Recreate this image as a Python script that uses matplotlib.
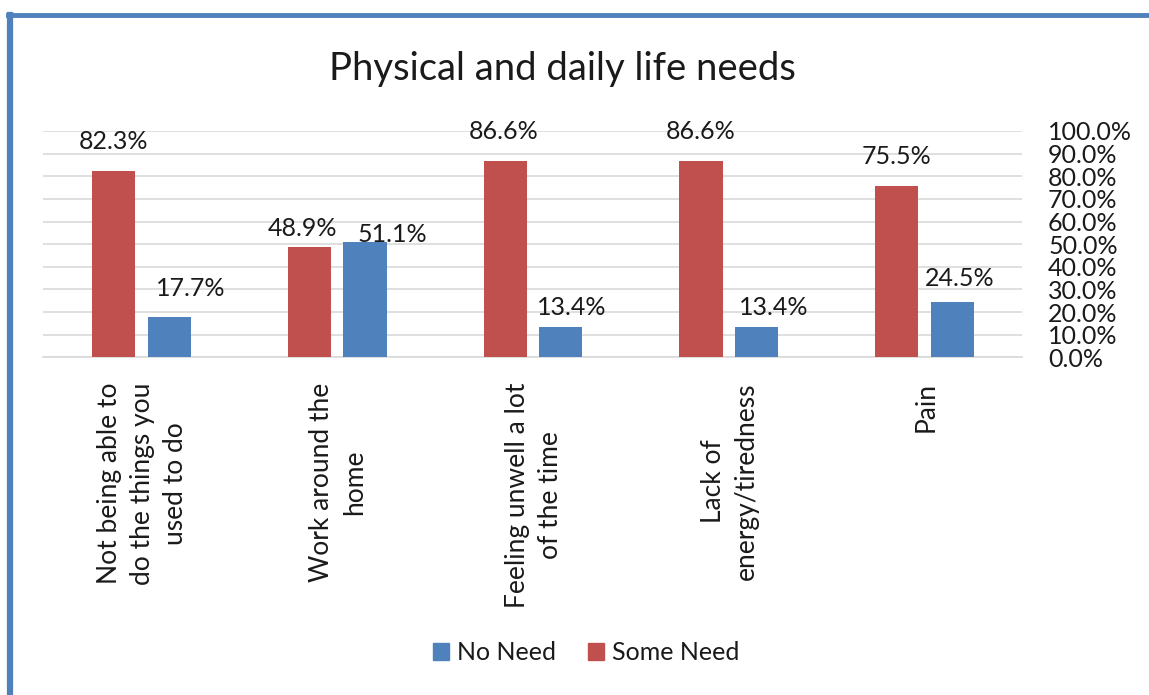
import numpy as np
import matplotlib.pyplot as plt
from matplotlib.patches import Patch
from matplotlib.lines import Line2D

plt.rcParams['font.family'] = ['Lato', 'DejaVu Sans']

# data
categories = ["Not being able to\ndo the things you\nused to do",
              "Work around the\nhome",
              "Feeling unwell a lot\nof the time",
              "Lack of\nenergy/tiredness",
              "Pain"]
some_need = [82.3, 48.9, 86.6, 86.6, 75.5]
no_need = [17.7, 51.1, 13.4, 13.4, 24.5]
yticks = np.arange(0, 101, 10)

# label nudges in pixels (dx, gap above bar), like the dragged Excel labels
red_nudge = [(0, 22), (-7, 11), (-2, 22), (0, 22), (0, 22)]
blue_nudge = [(22, 21), (27, 0), (11, 12), (17, 12), (7, 16)]

red = '#C0504D'
blue = '#4F81BD'
txt = '#1a1a1a'

fig = plt.figure(figsize=(11.49, 6.95), dpi=100)
ax = fig.add_axes([42.7 / 1149, 1 - 357.3 / 695, 979 / 1149, 226.3 / 695])

x = np.arange(len(categories))
w = 0.22
rb = ax.bar(x - 0.138, some_need, w, color=red, zorder=3)
bb = ax.bar(x + 0.146, no_need, w, color=blue, zorder=3)

for bars, vals, nudge in [(rb, some_need, red_nudge), (bb, no_need, blue_nudge)]:
    for b, v, (dx, dy) in zip(bars, vals, nudge):
        ax.annotate(f"{v:.1f}%", (b.get_x() + b.get_width() / 2, v),
                    xytext=(dx, dy), textcoords='offset pixels',
                    ha='center', va='baseline', fontsize=18, color=txt)

ax.set_xlim(-0.5, len(categories) - 0.5)
ax.set_ylim(0, 100)
ax.yaxis.tick_right()
ax.set_yticks(yticks)
ax.set_yticklabels([f"{v:.1f}%" for v in yticks], fontsize=18, color=txt)
ax.tick_params(axis='y', length=0, pad=19)
ax.tick_params(axis='x', length=0)
ax.set_xticks([])
ax.grid(axis='y', color='#D9D9D9', linewidth=1.2, zorder=0)
for s in ['top', 'left', 'right']:
    ax.spines[s].set_visible(False)
ax.spines['bottom'].set_color('#D9D9D9')
ax.spines['bottom'].set_linewidth(1.2)

for xi, lab in zip(x, categories):
    ax.annotate(lab, (xi, 0), xytext=(2, -25), textcoords='offset pixels',
                rotation=90, ha='center', va='top', multialignment='center',
                fontsize=19, color=txt, linespacing=1.4)

fig.text(562.5 / 1149, 1 - 80 / 695, "Physical and daily life needs",
         ha='center', va='baseline', fontsize=27.5, color=txt)

handles = [Patch(color=blue, label='No Need'), Patch(color=red, label='Some Need')]
fig.legend(handles=handles, loc='center', bbox_to_anchor=(586 / 1149, 1 - 653 / 695),
           ncol=2, frameon=False, fontsize=18, handlelength=0.64, handleheight=0.64,
           handletextpad=0.3, columnspacing=1.3, labelcolor=txt)

# blue frame of the surrounding box
fig.add_artist(Line2D([10 / 1149, 10 / 1149], [0, 1 - 15 / 695], color=blue, linewidth=4.5))
fig.add_artist(Line2D([7.5 / 1149, 1], [1 - 15 / 695, 1 - 15 / 695], color=blue, linewidth=3.5))

fig.savefig('out.png', dpi=100)
